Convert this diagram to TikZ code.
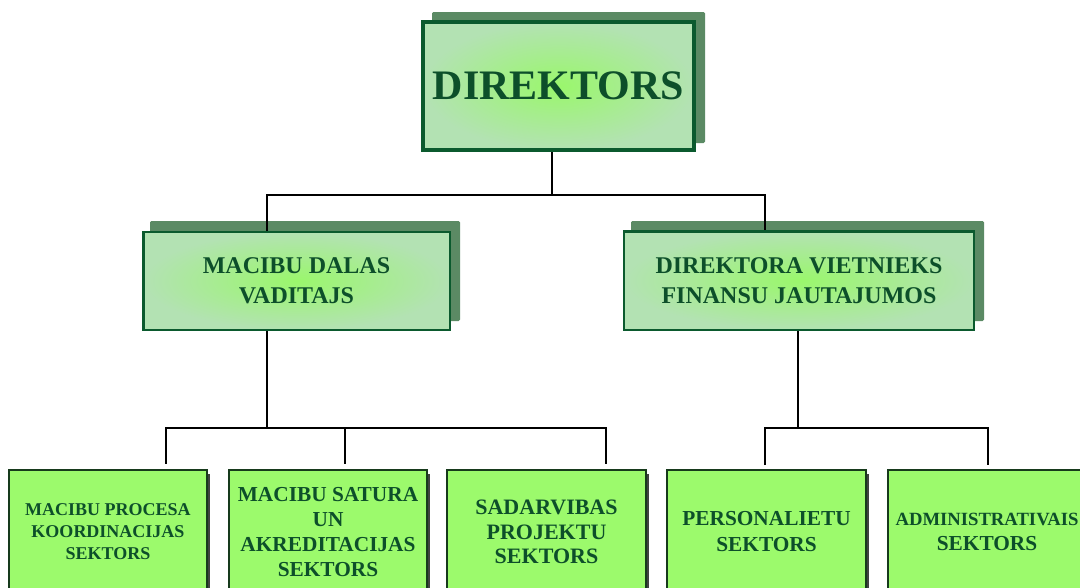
\documentclass[tikz,border=0pt]{standalone}
\usepackage{fontspec}
\setmainfont{Liberation Serif}
\definecolor{txt}{HTML}{0D4F2A}
\definecolor{bord}{HTML}{0B5A2E}
\definecolor{shad}{HTML}{5B8A64}
\definecolor{edgec}{HTML}{B3E2B3}
\definecolor{midc}{HTML}{9AF76C}
\definecolor{lowc}{HTML}{9CFA6C}
\definecolor{lowb}{HTML}{173A1C}
\begin{document}
\begin{tikzpicture}[x=0.75pt,y=-0.75pt,
  topbox/.style={draw=bord,rectangle,inner color=midc,outer color=edgec,text=txt,font=\bfseries,align=center,inner sep=0pt},
  lowbox/.style={draw=lowb,line width=1.5pt,fill=lowc,rectangle,text=txt,font=\bfseries,align=center,inner sep=0pt,minimum height=93pt,minimum width=149pt},
  conn/.style={line width=1.5pt,black},
  shadowbox/.style={fill=shad,rounded corners=1pt}]
\useasboundingbox (0,0) rectangle (1080,587);
\clip (0,0) rectangle (1080,587);
% shadows
\fill[shadowbox] (432,12) rectangle (705,143);
\fill[shadowbox] (150,221) rectangle (460,321);
\fill[shadowbox] (631,221) rectangle (984,321);
% top
\node[topbox,line width=3pt,minimum width=203pt,minimum height=96pt,font=\bfseries\fontsize{31.5}{36}\selectfont] (dir) at (558.5,86) {\raisebox{-2pt}{DIREKTORS}};
\node[topbox,line width=2pt,minimum width=230pt,minimum height=73.5pt,font=\bfseries\fontsize{18}{22.5}\selectfont] (mac) at (296.5,281) {MACIBU DALAS\\VADITAJS};
\node[topbox,line width=2pt,minimum width=262.5pt,minimum height=74pt,font=\bfseries\fontsize{18}{22.5}\selectfont] (vie) at (799,280.5) {DIREKTORA VIETNIEKS\\FINANSU JAUTAJUMOS};
% bottom shadows
\foreach \cx in {108,328,546.5,766.5,987}{\fill[black!75] (\cx-97,474) rectangle (\cx+102,600);}
\node[lowbox,font=\bfseries\fontsize{13.5}{16.5}\selectfont] (b1) at (108,532) {MACIBU PROCESA\\KOORDINACIJAS\\SEKTORS};
\node[lowbox,font=\bfseries\fontsize{16}{18.75}\selectfont] (b2) at (328,532) {MACIBU SATURA\\UN\\AKREDITACIJAS\\SEKTORS};
\node[lowbox,font=\bfseries\fontsize{16.5}{18.4}\selectfont] (b3) at (546.5,532) {SADARVIBAS\\PROJEKTU\\SEKTORS};
\node[lowbox,font=\bfseries\fontsize{16}{19.5}\selectfont] (b4) at (766.5,532) {PERSONALIETU\\SEKTORS};
\node[lowbox,font=\bfseries\fontsize{14}{19}\selectfont] (b5) at (987,532) {ADMINISTRATIVAIS\\{\fontsize{16}{19}\selectfont SEKTORS}};
% connectors
\coordinate (j1) at (552,195);
\coordinate (jl) at (267,195);
\coordinate (jr) at (765,195);
\draw[conn] (dir.south -| j1) -- (j1);
\draw[conn] (mac.north -| jl) -- (jl) -- (jr) -- (vie.north -| jr);
\coordinate (k1) at (267,428);
\coordinate (k1a) at (166,428);
\coordinate (k1b) at (345,428);
\coordinate (k1c) at (606,428);
\draw[conn] (mac.south -| k1) -- (k1);
\draw[conn] ([yshift=4pt]b1.north -| k1a) -- (k1a) -- (k1c) -- ([yshift=4pt]b3.north -| k1c);
\draw[conn] (k1b) -- ([yshift=4pt]b2.north -| k1b);
\coordinate (k2) at (798,428);
\coordinate (k2a) at (765,428);
\coordinate (k2b) at (988,428);
\draw[conn] (vie.south -| k2) -- (k2);
\draw[conn] ([yshift=3pt]b4.north -| k2a) -- (k2a) -- (k2b) -- ([yshift=3pt]b5.north -| k2b);
\end{tikzpicture}
\end{document}
